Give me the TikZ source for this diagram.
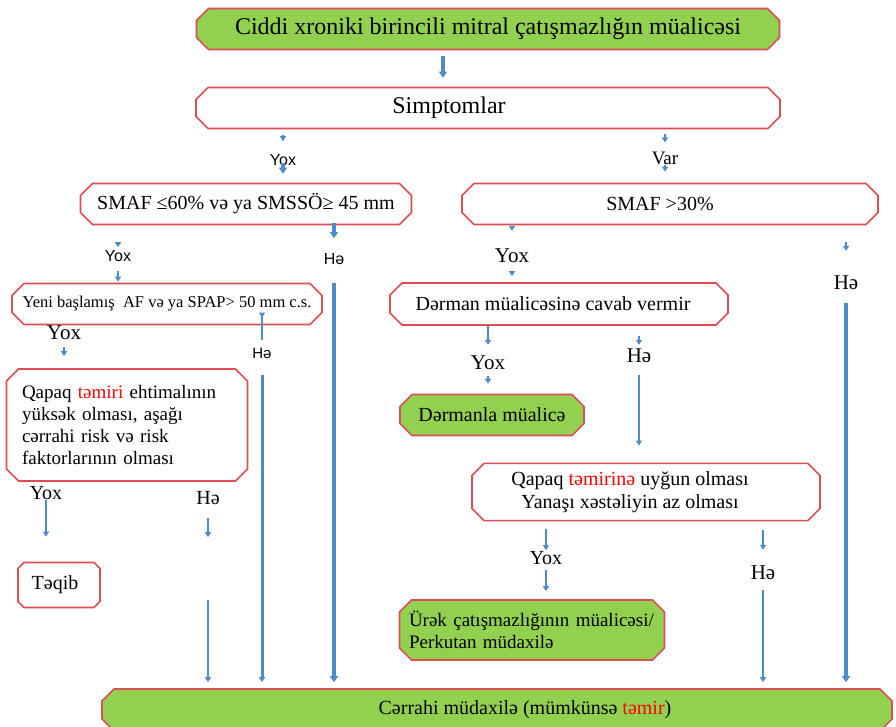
\documentclass[tikz,border=0pt]{standalone}
\usepackage{fontspec}
\setmainfont{Liberation Serif}
\setsansfont{Liberation Sans}
\usetikzlibrary{arrows.meta,shapes.misc}

\definecolor{boxred}{RGB}{222,76,84}
\definecolor{leafgreen}{RGB}{146,208,80}
\definecolor{flowblue}{RGB}{79,139,201}
\newcommand{\rd}[1]{\textcolor{red}{#1}}
\newcommand{\fs}[1]{\fontsize{#1}{1.1\dimexpr#1pt\relax}\selectfont}

\tikzset{
  box/.style={chamfered rectangle, chamfered rectangle xsep=6pt,
    chamfered rectangle ysep=6pt, draw=boxred, line width=1.6pt,
    fill=white, inner sep=2pt},
  leaf/.style={box, fill=leafgreen},
  lbl/.style={inner sep=0pt, font=\fs{21}},
  slbl/.style={inner sep=0pt, font=\sffamily\fs{16}},
  arr/.style={draw=flowblue, line width=2.4pt, -{Triangle[length=5pt,width=6pt]}},
  fat/.style={arr, line width=4pt, -{Triangle[length=6pt,width=8pt]}},
}

\begin{document}
\begin{tikzpicture}[x=1pt,y=-1pt]
  \useasboundingbox (0,0) rectangle (896,727);

  % boxes
  \node[leaf, minimum width=583pt, minimum height=41pt, font=\fs{24}] (title) at (488,29)
    {Ciddi xroniki birincili mitral çatışmazlığın müalicəsi};
  \node[box, minimum width=584pt, minimum height=41pt, font=\fs{24}] (symp) at (488,108)
    {\hspace*{-78pt}Simptomlar};
  \node[box, minimum width=331pt, minimum height=41pt, font=\fs{20}] (smafL) at (246,204)
    {SMAF ≤60\% və ya SMSSÖ≥ 45 mm};
  \node[box, minimum width=416pt, minimum height=41pt, font=\fs{20}] (smafR) at (670,204)
    {\hspace*{-20pt}SMAF >30\%};
  \node[box, minimum width=310pt, minimum height=41pt, font=\fs{16.5}] (yeni) at (167,304)
    {Yeni başlamış~ AF və ya SPAP> 50 mm c.s.};
  \node[box, minimum width=338pt, minimum height=42pt, font=\fs{20}] (dmn) at (559,304)
    {\hspace*{-12pt}Dərman müalicəsinə cavab vermir};
  \node[box, minimum width=241pt, minimum height=112pt, font=\fontsize{19}{22}\selectfont,
    text width=210pt, align=left] (qapL) at (127,425)
    {Qapaq \rd{təmiri} ehtimalının\\ yüksək olması, aşağı\\ cərrahi risk və risk\\ faktorlarının olması};
  \node[leaf, minimum width=184pt, minimum height=41pt, font=\fs{20}] (drm) at (492,415)
    {Dərmanla müalicə};
  \node[box, minimum width=348pt, minimum height=54pt, font=\fontsize{20}{23}\selectfont,
    align=center] (qapR) at (646,492)
    {\hspace*{-32pt}Qapaq \rd{təmirinə} uyğun olması\\ \hspace*{-32pt}Yanaşı xəstəliyin az olması};
  \node[box, chamfered rectangle xsep=3pt, chamfered rectangle ysep=3pt, minimum width=82pt,
    minimum height=45pt, font=\fs{20}] (taqib) at (59,585)
    {\hspace*{-8pt}Təqib};
  \node[leaf, minimum width=265pt, minimum height=60pt, font=\fontsize{19}{22}\selectfont,
    text width=246pt, align=left] (urek) at (532,630)
    {Ürək çatışmazlığının müalicəsi/\\ Perkutan müdaxilə};
  \node[leaf, minimum width=790pt, minimum height=42pt, font=\fs{20}] (surg) at (497,710)
    {\hspace*{56pt}Cərrahi müdaxilə (mümkünsə \rd{təmir})};

  % branch labels
  \node[slbl] (yA) at (283,160) {Yox};
  \node[lbl, font=\fs{19}] (vA) at (665,158) {Var};
  \node[slbl] (yB) at (118,256) {Yox};
  \node[slbl] (hB) at (334,259) {Hə};
  \node[lbl] (yC) at (512,256) {Yox};
  \node[lbl] (hC) at (846,283) {Hə};
  \node[lbl] (yD) at (64,333) {Yox};
  \node[slbl, font=\sffamily\fs{15}] (hD) at (262,353) {Hə};
  \node[lbl] (yE) at (488,363) {Yox};
  \node[lbl] (hE) at (639,356) {Hə};
  \node[lbl, font=\fs{20}] (yF) at (46,493) {Yox};
  \node[lbl, font=\fs{20}] (hF) at (208,498) {Hə};
  \node[lbl, font=\fs{20}] (yG) at (546,558) {Yox};
  \node[lbl] (hG) at (763,573) {Hə};

  % connectors
  \draw[fat, shorten <=6pt, shorten >=9pt] ([xshift=-45pt]title.south) -- ([xshift=-45pt]symp.north);
  \draw[arr, shorten <=6pt, shorten >=13pt] (symp.south -| yA) -- (yA.north);
  \draw[fat, shorten <=-3pt, shorten >=9pt] (yA.south) -- (smafL.north -| yA);
  \draw[arr, shorten <=5pt, shorten >=9pt] (symp.south -| vA) -- (vA.north);
  \draw[arr, shorten <=0pt, shorten >=11pt] (vA.south) -- (smafR.north -| vA);

  \draw[arr, shorten <=19pt, shorten >=3pt] (smafL.south -| yB) -- (yB.north);
  \draw[arr, shorten <=9pt, shorten >=1pt] (yB.south) -- (yeni.north -| yB);
  \draw[fat, shorten <=-2pt, shorten >=15pt] (smafL.south -| hB) -- (hB.north);
  \draw[fat, shorten <=18pt, shorten >=6pt] (hB.south) -- (surg.north -| hB);

  \draw[arr, shorten <=2pt, shorten >=18pt] (smafR.south -| yC) -- (yC.north);
  \draw[arr, shorten <=9pt, shorten >=6pt] (yC.south) -- (dmn.north -| yC);
  \draw[arr, shorten <=17pt, shorten >=25pt] (smafR.south -| hC) -- (hC.north);
  \draw[fat, line width=4.5pt, shorten <=13pt, shorten >=6pt] (hC.south) -- (surg.north -| hC);

  \draw[arr, shorten <=-15pt, shorten >=30pt] (yeni.south -| hD) -- (hD.north);
  \draw[arr, line width=3pt, shorten <=17pt, shorten >=6pt] (hD.south) -- (surg.north -| hD);
  \draw[arr, shorten <=7pt, shorten >=12pt] (yD.south) -- (qapL.north -| yD);

  \draw[arr, shorten <=0pt, shorten >=25pt] (yF.south) -- (taqib.north -| yF);
  \draw[arr, shorten <=13pt, shorten >=151pt] (hF.south) -- (surg.north -| hF);
  \draw[arr, shorten <=95pt, shorten >=6pt] (hF.south) -- (surg.north -| hF);

  \draw[arr, shorten <=0pt, shorten >=11pt] (dmn.south -| yE) -- (yE.north);
  \draw[arr, shorten <=6pt, shorten >=10pt] (yE.south) -- (drm.north -| yE);
  \draw[arr, shorten <=10pt, shorten >=4pt] (dmn.south -| hE) -- (hE.north);
  \draw[arr, shorten <=12pt, shorten >=17pt] (hE.south) -- (qapR.north -| hE);

  \draw[arr, shorten <=8pt, shorten >=1pt] (qapR.south -| yG) -- (yG.north);
  \draw[arr, shorten <=5pt, shorten >=8pt] (yG.south) -- (urek.north -| yG);
  \draw[arr, shorten <=9pt, shorten >=16pt] (qapR.south -| hG) -- (hG.north);
  \draw[arr, shorten <=10pt, shorten >=6pt] (hG.south) -- (surg.north -| hG);
\end{tikzpicture}
\end{document}
